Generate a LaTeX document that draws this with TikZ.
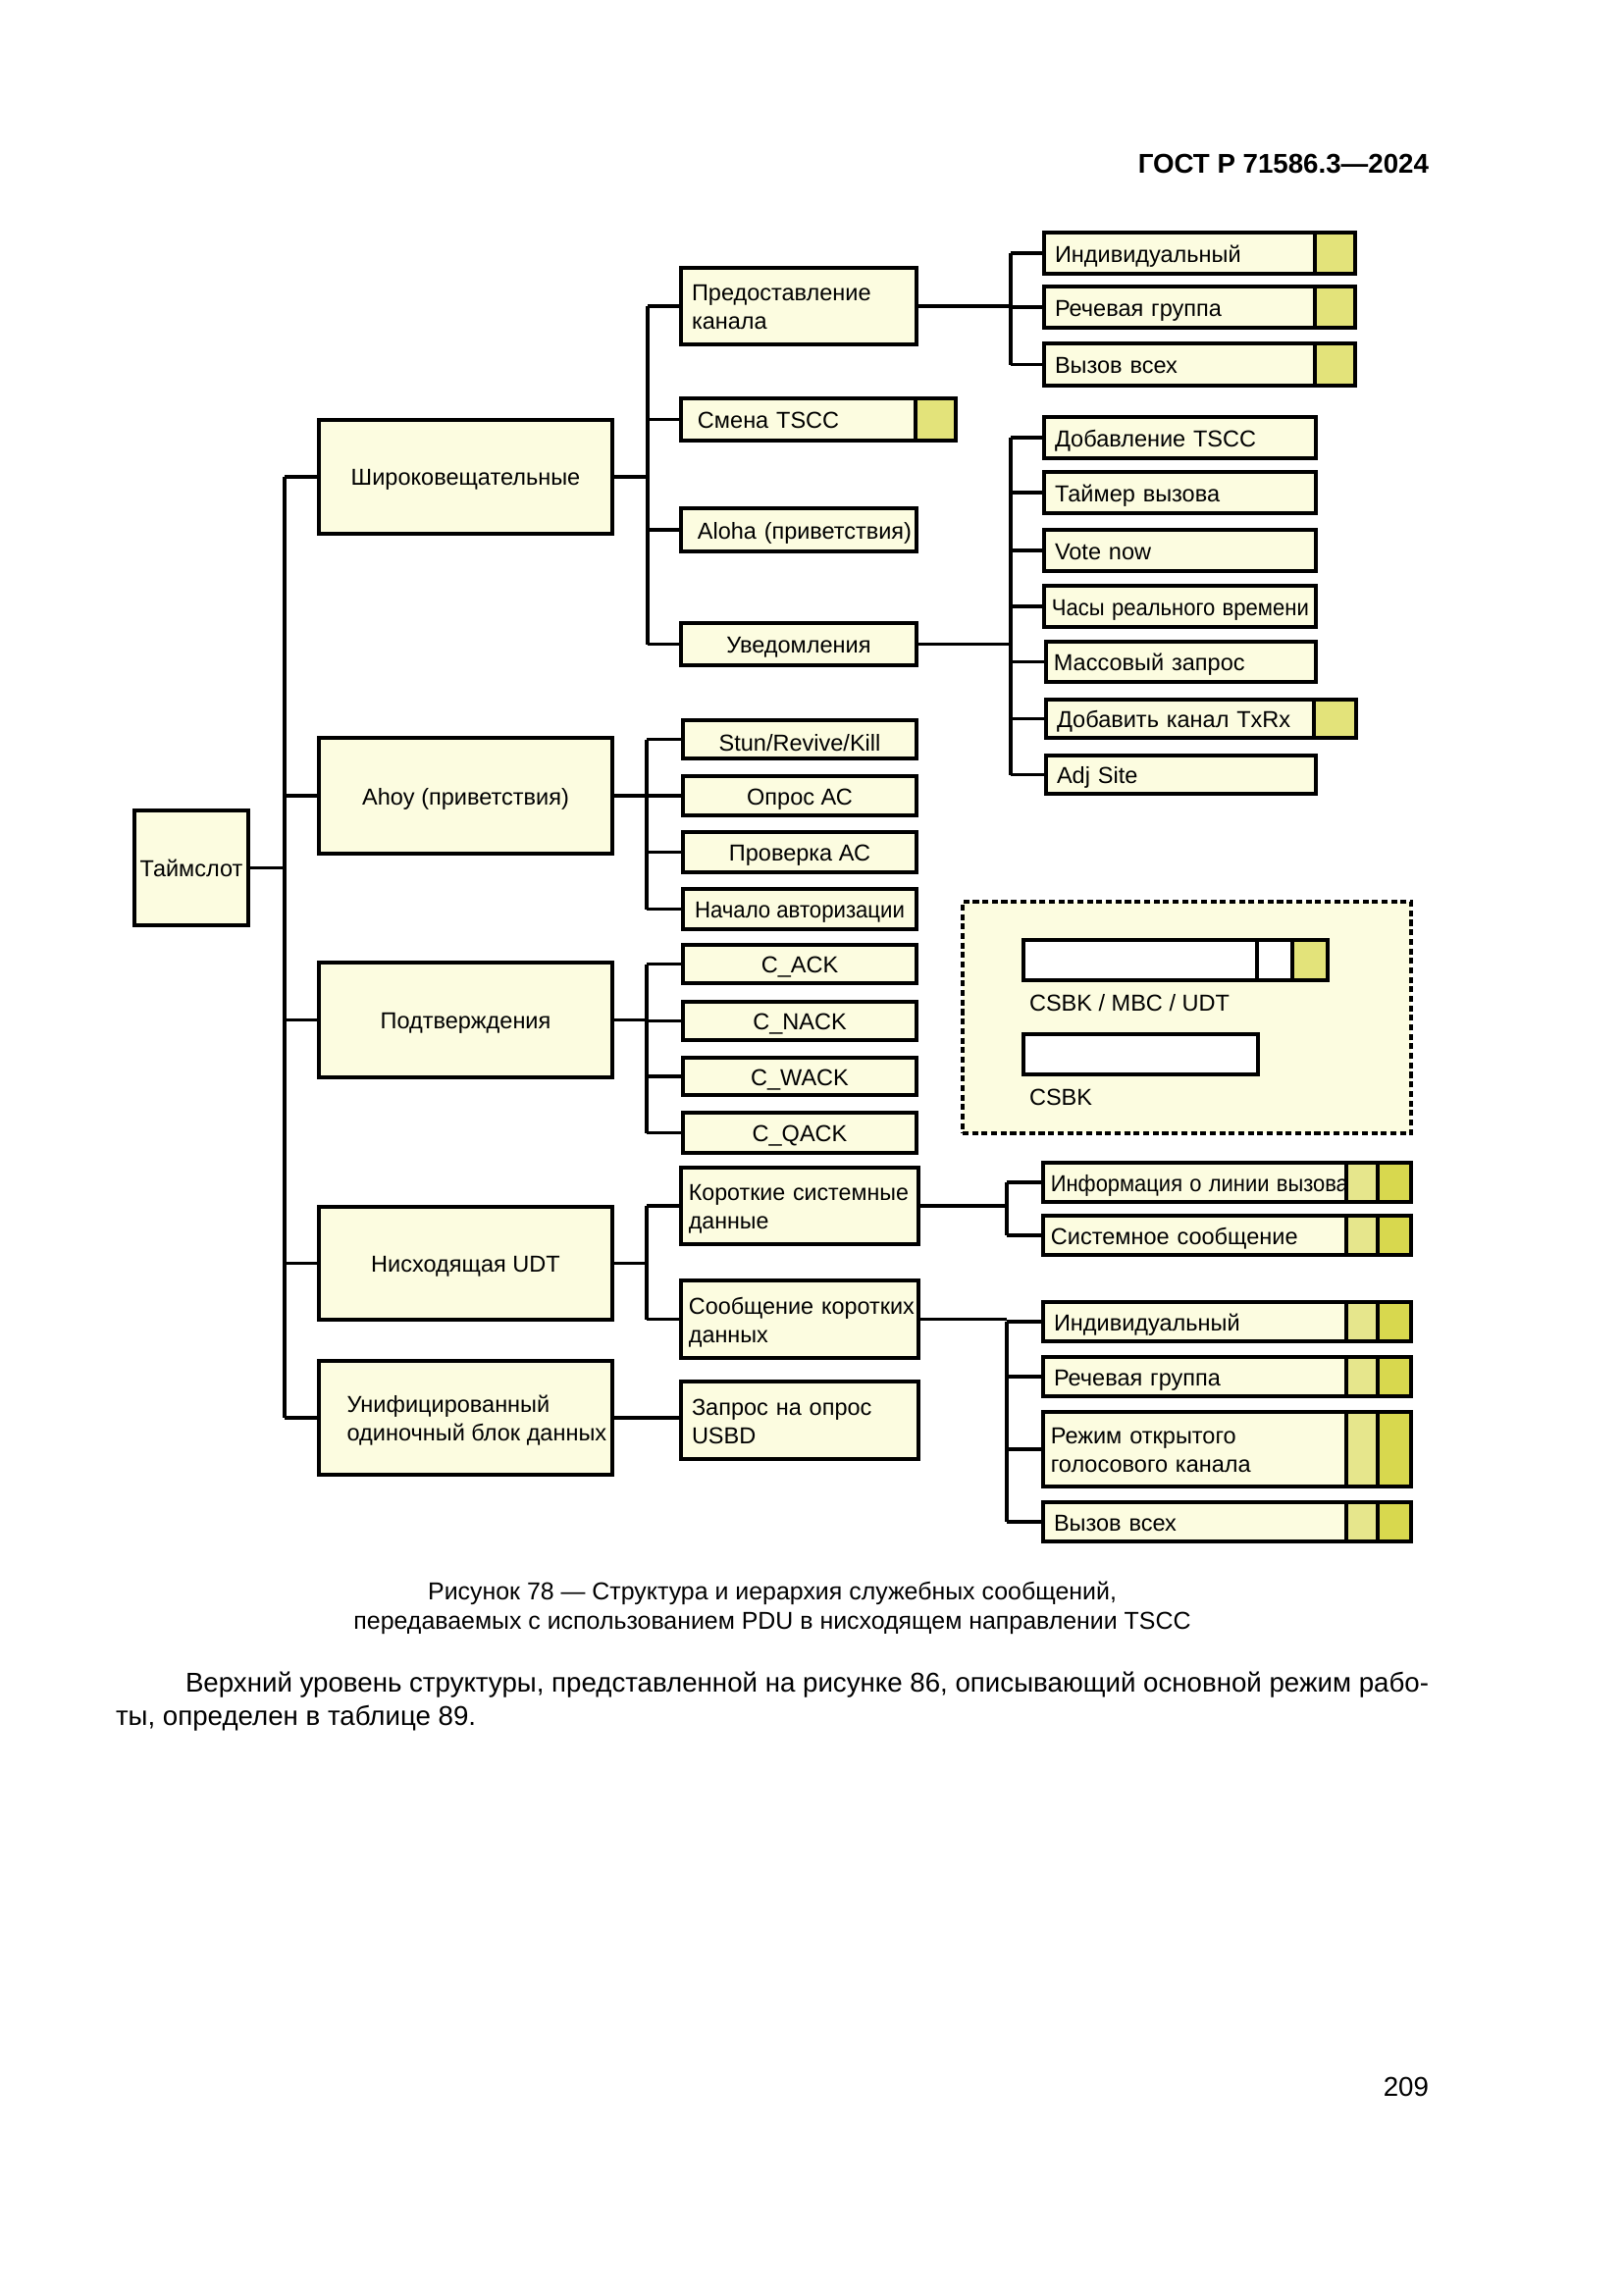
\documentclass[tikz,border=0pt]{standalone}
\usepackage{fontspec}
\usepackage{graphicx}
\setmainfont{Liberation Sans}
\definecolor{boxfill}{HTML}{FCFCE0}
\definecolor{cellY}{HTML}{E3E37A}
\definecolor{cellL}{HTML}{E6E68C}
\definecolor{cellD}{HTML}{D8D84E}
\newcommand\mybox[7][]{%
  \pgfmathsetlengthmacro\myBW{(#5-#3)*0.12697mm}%
  \pgfmathsetlengthmacro\myBH{(#6-#4)*0.12697mm}%
  \pgfmathsetlengthmacro\myTW{(#5-#3-22)*0.12697mm}%
  \node[box, minimum width=\myBW, minimum height=\myBH, #1] (#2) at ({(#3+#5)/2},{(#4+#6)/2}) {\raisebox{-1.2pt}[\height][\depth]{#7}};}
\newcommand\tl[1]{\begin{tabular}{@{}l@{}}#1\end{tabular}}
\newcommand\fw[2]{\resizebox{#1}{\height}{\tl{#2}}}
\begin{document}
\begin{tikzpicture}[x=0.12697mm,y=-0.12697mm,
  every node/.style={inner sep=0pt, outer sep=0pt},
  box/.style={draw=black, line width=1.45pt, fill=boxfill, inner xsep=0.5mm,
    font=\fontsize{8.5}{10.5}\selectfont},
  lft/.style={text width=\myTW, align=left, inner xsep=1.27mm},
  cell/.style={fill=cellY},
  cellA/.style={fill=cellL},
  cellB/.style={fill=cellD},
  wbar/.style={fill=white},
  conn/.style={draw=black, line width=1.25pt},
  txt/.style={font=\fontsize{8.5}{10.5}\selectfont}]
\fill[white] (0,0) rectangle (1654,2339);
\useasboundingbox (0,0) rectangle (1654,2339);

\node[anchor=east, font=\bfseries\fontsize{10}{12}\selectfont] (hdr) at (1456,167) {ГОСТ Р 71586.3—2024};

% level 0 and 1
\mybox[inner xsep=0pt]{ts}{137}{826}{253}{943}{\fw{13.28mm}{Таймслот}}
\mybox{shir}{325}{428}{624}{544}{Широковещательные}
\mybox{ahoy}{325}{752}{624}{870}{Ahoy (приветствия)}
\mybox{podt}{325}{981}{624}{1098}{Подтверждения}
\mybox{nisx}{325}{1230}{624}{1345}{Нисходящая UDT}
\mybox[align=left]{unif}{325}{1387}{624}{1503}{\hspace*{2.9mm}\tl{Унифицированный\\одиночный блок данных}}

% level 2
\mybox[lft]{pred}{694}{273}{934}{351}{\tl{Предоставление\\канала}}
\mybox[lft]{smena}{694}{406}{933}{449}{\hspace*{0.76mm}\tl{Смена TSCC}}
\mybox[cell]{smenac}{933}{406}{974}{449}{}
\mybox[lft]{aloha}{694}{518}{934}{562}{\hspace*{0.76mm}\fw{27.68mm}{Aloha (приветствия)}}
\mybox{uved}{694}{635}{934}{678}{Уведомления}
\mybox{stun}{696}{734}{934}{773}{Stun/Revive/Kill}
\mybox{opros}{696}{791}{934}{831}{Опрос АС}
\mybox{prov}{696}{848}{934}{889}{Проверка АС}
\mybox{nach}{696}{906}{934}{947}{\fw{27.17mm}{Начало авторизации}}
\mybox{cack}{696}{963}{934}{1002}{C\_ACK}
\mybox{cnack}{696}{1021}{934}{1060}{C\_NACK}
\mybox{cwack}{696}{1078}{934}{1116}{C\_WACK}
\mybox{cqack}{696}{1134}{934}{1175}{C\_QACK}
\mybox[lft]{krat}{694}{1190}{936}{1268}{\hspace*{-0.4mm}\fw{28.44mm}{Короткие системные\\данные}}
\mybox[lft]{soob}{694}{1305}{936}{1384}{\hspace*{-0.4mm}\fw{29.2mm}{Сообщение коротких\\данных}}
\mybox[lft]{zapr}{694}{1408}{936}{1487}{\tl{Запрос на опрос\\USBD}}

% level 3, upper
\mybox[lft]{ind1}{1064}{237}{1340}{279}{\tl{Индивидуальный}}
\mybox[cell]{ind1c}{1340}{237}{1381}{279}{}
\mybox[lft]{rech1}{1064}{292}{1340}{334}{\tl{Речевая группа}}
\mybox[cell]{rech1c}{1340}{292}{1381}{334}{}
\mybox[lft]{vyz1}{1064}{350}{1340}{393}{\tl{Вызов всех}}
\mybox[cell]{vyz1c}{1340}{350}{1381}{393}{}
\mybox[lft]{dob}{1064}{425}{1341}{467}{\tl{Добавление TSCC}}
\mybox[lft]{taim}{1064}{481}{1341}{523}{\tl{Таймер вызова}}
\mybox[lft]{vote}{1064}{540}{1341}{582}{\tl{Vote now}}
\mybox[lft]{chas}{1064}{597}{1341}{639}{\hspace*{-0.4mm}\fw{33.27mm}{Часы реального времени}}
\mybox[lft]{mass}{1066}{654}{1341}{695}{\hspace*{-0.4mm}\tl{Массовый запрос}}
\mybox[lft]{dobk}{1066}{713}{1339}{752}{\tl{Добавить канал TxRx}}
\mybox[cell]{dobkc}{1339}{713}{1382}{752}{}
\mybox[lft]{adj}{1066}{770}{1341}{809}{\tl{Adj Site}}

% level 3, lower
\mybox[lft]{info}{1063}{1185}{1372}{1225}{\hspace*{-0.4mm}\fw{38.47mm}{Информация о линии вызова}}
\mybox[cellA]{infoa}{1372}{1185}{1404}{1225}{}
\mybox[cellB]{infob}{1404}{1185}{1438}{1225}{}
\mybox[lft]{sist}{1063}{1239}{1372}{1279}{\hspace*{-0.4mm}\tl{Системное сообщение}}
\mybox[cellA]{sista}{1372}{1239}{1404}{1279}{}
\mybox[cellB]{sistb}{1404}{1239}{1438}{1279}{}
\mybox[lft]{ind2}{1063}{1327}{1372}{1367}{\tl{Индивидуальный}}
\mybox[cellA]{ind2a}{1372}{1327}{1404}{1367}{}
\mybox[cellB]{ind2b}{1404}{1327}{1438}{1367}{}
\mybox[lft]{rech2}{1063}{1383}{1372}{1423}{\tl{Речевая группа}}
\mybox[cellA]{rech2a}{1372}{1383}{1404}{1423}{}
\mybox[cellB]{rech2b}{1404}{1383}{1438}{1423}{}
\mybox[lft]{rezh}{1063}{1439}{1372}{1515}{\hspace*{-0.4mm}\tl{Режим открытого\\голосового канала}}
\mybox[cellA]{rezha}{1372}{1439}{1404}{1515}{}
\mybox[cellB]{rezhb}{1404}{1439}{1438}{1515}{}
\mybox[lft]{vyz2}{1063}{1531}{1372}{1571}{\tl{Вызов всех}}
\mybox[cellA]{vyz2a}{1372}{1531}{1404}{1571}{}
\mybox[cellB]{vyz2b}{1404}{1531}{1438}{1571}{}

% legend
\node[draw=black, line width=1.4pt, dash pattern=on 2.2pt off 1.3pt, fill=boxfill,
  minimum width=58.03mm, minimum height=29.96mm] (leg) at (1209.5,1037) {};
\mybox[wbar]{lb1}{1043}{958}{1281}{999}{}
\mybox[wbar]{lb2}{1281}{958}{1317}{999}{}
\mybox[cell]{lb3}{1317}{958}{1353}{999}{}
\mybox[wbar]{lc1}{1043}{1054}{1282}{1095}{}
\node[txt, anchor=west] (lt1) at (1049,1022) {CSBK / MBC / UDT};
\node[txt, anchor=west] (lt2) at (1049,1118) {CSBK};

% connectors
\coordinate (T) at (290,0);
\coordinate (B1) at (660,0);
\coordinate (B2) at (1030,0);
\coordinate (B4) at (659,0);
\coordinate (B7) at (1026,0);

\draw[conn] (shir.west -| T) -- (unif.west -| T);
\draw[conn] (ts.east) -- (ts.east -| T);
\foreach \n in {shir,ahoy,podt,nisx,unif} \draw[conn] (\n.west) -- (\n.west -| T);

\draw[conn] (shir.east) -- (shir.east -| B1);
\draw[conn] (pred.west -| B1) -- (uved.west -| B1);
\foreach \n in {pred,smena,aloha,uved} \draw[conn] (\n.west) -- (\n.west -| B1);

\draw[conn] (pred.east) -- (pred.east -| B2);
\draw[conn] (ind1.west -| B2) -- (vyz1.west -| B2);
\foreach \n in {ind1,rech1,vyz1} \draw[conn] (\n.west) -- (\n.west -| B2);

\draw[conn] (uved.east) -- (uved.east -| B2);
\draw[conn] (dob.west -| B2) -- (adj.west -| B2);
\foreach \n in {dob,taim,vote,chas,mass,dobk,adj} \draw[conn] (\n.west) -- (\n.west -| B2);

\draw[conn] (ahoy.east) -- (ahoy.east -| B4);
\draw[conn] (stun.west -| B4) -- (nach.west -| B4);
\foreach \n in {stun,opros,prov,nach} \draw[conn] (\n.west) -- (\n.west -| B4);

\draw[conn] (podt.east) -- (podt.east -| B4);
\draw[conn] (cack.west -| B4) -- (cqack.west -| B4);
\foreach \n in {cack,cnack,cwack,cqack} \draw[conn] (\n.west) -- (\n.west -| B4);

\draw[conn] (nisx.east) -- (nisx.east -| B4);
\draw[conn] (krat.west -| B4) -- (soob.west -| B4);
\foreach \n in {krat,soob} \draw[conn] (\n.west) -- (\n.west -| B4);

\draw[conn] (unif.east) -- (unif.east -| zapr.west);

\draw[conn] (krat.east) -- (krat.east -| B7);
\draw[conn] (info.west -| B7) -- (sist.west -| B7);
\foreach \n in {info,sist} \draw[conn] (\n.west) -- (\n.west -| B7);

\draw[conn] (soob.east) -- (soob.east -| B7);
\draw[conn] (ind2.west -| B7) -- (vyz2.west -| B7);
\foreach \n in {ind2,rech2,rezh,vyz2} \draw[conn] (\n.west) -- (\n.west -| B7);

% caption and text
\node[align=center, font=\fontsize{9}{10.8}\selectfont] (cap) at (787,1639)
  {Рисунок 78 — Структура и иерархия служебных сообщений,\\передаваемых с использованием PDU в нисходящем направлении TSCC};
\node[anchor=west, font=\fontsize{10}{12.2}\selectfont] (p1) at (189,1717)
  {\makebox[160.87mm][s]{Верхний уровень структуры, представленной на рисунке 86, описывающий основной режим рабо-}};
\node[anchor=west, font=\fontsize{10}{12.2}\selectfont] (p2) at (118,1751)
  {ты, определен в таблице 89.};
\node[anchor=east, font=\fontsize{10}{12}\selectfont] (pg) at (1456,2127) {209};
\end{tikzpicture}
\end{document}
